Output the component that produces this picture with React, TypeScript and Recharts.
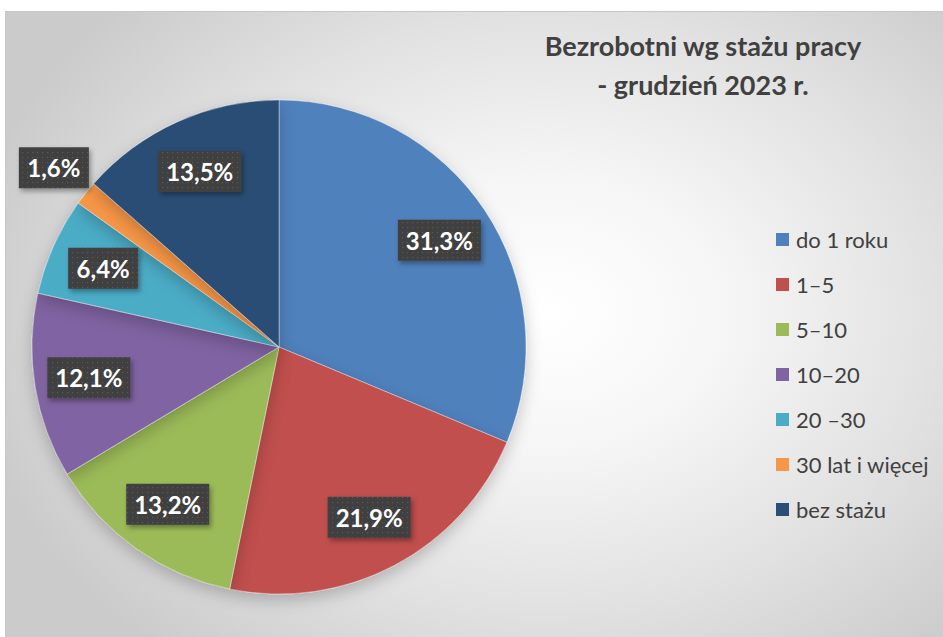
import React from "react";
import { Legend, Pie, PieChart, Cell } from "recharts";

const KATEGORIE = ["do 1 roku", "1–5", "5–10", "10–20", "20 –30", "30 lat i więcej", "bez stażu"];
const UDZIALY = [31.3, 21.9, 13.2, 12.1, 6.4, 1.6, 13.5];
const KOLORY = ["#4F81BD", "#C0504D", "#9BBB59", "#8064A2", "#4BACC6", "#F79646", "#2C4D75"];
const TYTUL = ["Bezrobotni wg stażu pracy", "- grudzień 2023 r."];

const dane = KATEGORIE.map((name, i) => ({ name, value: UDZIALY[i] }));

const RAD = Math.PI / 180;
const FONT = "Lato, 'Open Sans', sans-serif";

function formatuj(v: number) {
  return v.toFixed(1).replace(".", ",") + "%";
}

// etykieta w ciemnym pudełku, jak w Excelu
function Etykieta(props: any) {
  const { cx, cy, midAngle, outerRadius, value } = props;
  const maly = value < 3;
  const r = maly ? outerRadius * 1.165 : outerRadius * 0.78;
  const x = cx + r * Math.cos(-midAngle * RAD);
  const y = cy + r * Math.sin(-midAngle * RAD);
  const tekst = formatuj(value);
  const w = 13 * tekst.length + 18;
  const h = 41;
  return (
    <g>
      <rect x={x - w / 2} y={y - h / 2} width={w} height={h} fill="#404040" filter="url(#cien)" />
      <rect x={x - w / 2} y={y - h / 2} width={w} height={h} fill="url(#kropki)" />
      <text
        x={x}
        y={y}
        textAnchor="middle"
        dominantBaseline="central"
        fill="#ffffff"
        fontFamily={FONT}
        fontWeight={700}
        fontSize={24}
      >
        {tekst}
      </text>
    </g>
  );
}

function Legenda() {
  return (
    <div style={{ fontFamily: FONT, fontSize: 22, color: "#404040" }}>
      {dane.map((d, i) => (
        <div key={d.name} style={{ display: "flex", alignItems: "center", height: 45 }}>
          <span style={{ width: 13, height: 13, background: KOLORY[i], marginRight: 7, flexShrink: 0 }} />
          <span style={{ whiteSpace: "nowrap" }}>{d.name}</span>
        </div>
      ))}
    </div>
  );
}

export default function App() {
  return (
    <div style={{ position: "absolute", left: 0, top: 0, width: 943, height: 637, background: "#fff", overflow: "hidden" }}>
      <div
        style={{
          position: "absolute",
          left: 5,
          top: 11,
          width: 950,
          height: 640,
          border: "1px solid #c8c8c8",
          background: "radial-gradient(ellipse 62% 70% at 57% 47%, #ffffff 0%, #f6f6f6 30%, #e2e2e2 65%, #cbcbcb 100%)",
        }}
      />
      <svg width={0} height={0} style={{ position: "absolute" }}>
        <defs>
          <pattern id="kropki" width={5} height={5} patternUnits="userSpaceOnUse">
            <rect x={2} y={2} width={1.2} height={1.2} fill="#5a5a5a" />
          </pattern>
          <filter id="cien" x="-20%" y="-20%" width="150%" height="160%">
            <feDropShadow dx={2} dy={3} stdDeviation={2.5} floodColor="#000" floodOpacity={0.35} />
          </filter>
          <filter id="cienKola" x="-10%" y="-10%" width="120%" height="125%">
            <feDropShadow dx={0} dy={6} stdDeviation={8} floodColor="#000" floodOpacity={0.22} />
          </filter>
        </defs>
      </svg>
      <div style={{ position: "absolute", left: 0, top: 0 }}>
        <PieChart width={943} height={637} margin={{ top: 0, right: 0, bottom: 0, left: 0 }}>
          <Pie
            data={dane}
            dataKey="value"
            nameKey="name"
            cx={279}
            cy={347}
            outerRadius={247}
            startAngle={90}
            endAngle={-270}
            stroke="rgba(255,255,255,0.35)"
            strokeWidth={1}
            label={Etykieta}
            labelLine={false}
            isAnimationActive={false}
            style={{ filter: "url(#cienKola)" }}
          >
            {dane.map((_, i) => (
              <Cell key={i} fill={KOLORY[i]} />
            ))}
          </Pie>
          <Legend
            layout="vertical"
            content={() => <Legenda />}
            wrapperStyle={{ left: 776, top: 217, width: 170 }}
          />
        </PieChart>
      </div>
      <div
        style={{
          position: "absolute",
          left: 503,
          top: 26,
          width: 400,
          textAlign: "center",
          fontFamily: FONT,
          fontWeight: 700,
          fontSize: 27,
          lineHeight: "39px",
          color: "#404040",
        }}
      >
        {TYTUL.map((t) => (
          <div key={t}>{t}</div>
        ))}
      </div>
    </div>
  );
}
